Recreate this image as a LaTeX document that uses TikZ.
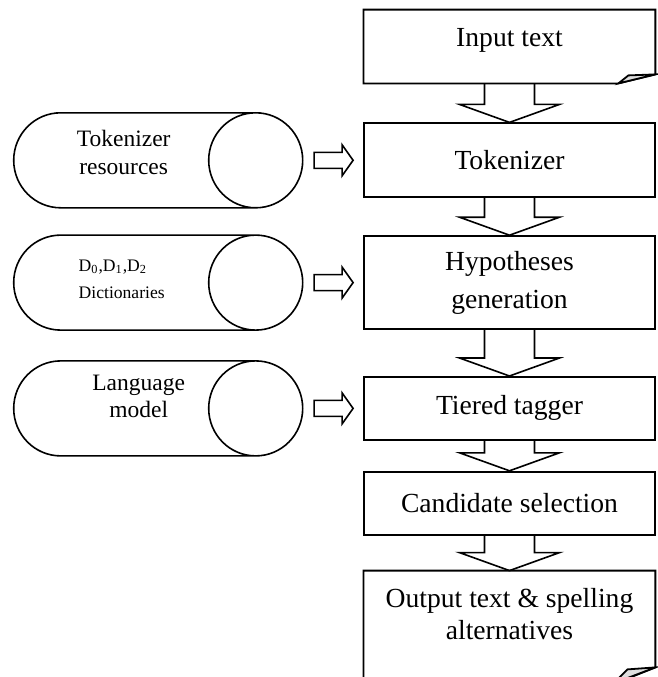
\documentclass[tikz,border=0pt]{standalone}
\usepackage{fontspec}
\setmainfont{Liberation Serif}
\usetikzlibrary{positioning, calc}

% hollow block arrows between named nodes
\newcommand{\blockdown}[2]{%
  \draw[blockarrow] let \p1=(#1), \p2=(#2) in
    (\x1-12.5pt,\y1) -- (\x1-12.5pt,\y2+9pt) -- (\x1-25pt,\y2+9pt) -- (\x1,\y2)
    -- (\x1+25pt,\y2+9pt) -- (\x1+12.5pt,\y2+9pt) -- (\x1+12.5pt,\y1);}
\newcommand{\blockright}[2]{%
  \draw[blockarrow] let \p1=(#1), \p2=(#2) in
    (\x1+5pt,\y2+4pt) -- (\x2-10.5pt,\y2+4pt) -- (\x2-10.5pt,\y2+7.75pt) -- (\x2-5pt,\y2)
    -- (\x2-10.5pt,\y2-7.75pt) -- (\x2-10.5pt,\y2-4pt) -- (\x1+5pt,\y2-4pt) -- cycle;}

\begin{document}
\begin{tikzpicture}[
        x=0.5pt, y=0.5pt,
        box/.style={draw, line width=0.9pt, minimum width=145.5pt, inner sep=0pt, align=center,
                    font=\fontsize{13.8pt}{16pt}\selectfont},
        docbox/.style={minimum width=145.5pt, inner sep=0pt, align=center,
                    font=\fontsize{13.8pt}{16pt}\selectfont},
        store/.style={minimum width=145pt, minimum height=47.5pt, inner sep=0pt},
        storetext/.style={inner sep=0pt, font=\fontsize{11.75pt}{13.75pt}\selectfont},
        boxline/.style={line width=0.9pt, line join=miter},
        storeline/.style={line width=0.8pt},
        blockarrow/.style={line width=0.8pt, line join=miter}
    ]
    \useasboundingbox (0,0) rectangle (658,677);

    % Define the blocks
    \node[docbox, minimum height=30pt] (input) at (509.5,637) {Input text};
    \coordinate (input foot) at ($(input.south)+(0,-13)$);
    \node[box, minimum height=37pt, below=19.5pt of input foot] (tok) {Tokenizer};
    \node[box, minimum height=46.5pt, below=18.5pt of tok,
          font=\fontsize{13.8pt}{19pt}\selectfont] (hyp) {Hypotheses\\generation};
    \node[box, minimum height=31.5pt, below=23pt of hyp] (tier) {Tiered tagger};
    \node[box, minimum height=31.5pt, below=15pt of tier] (cand) {Candidate selection};
    \node[docbox, minimum height=43pt, below=17.5pt of cand] (output) {Output text \& spelling\\alternatives};

    % Define the resources
    \node[store, left=29.5pt of tok] (tokres) {};
    \node[store, left=29.5pt of hyp] (dict) {};
    \node[store, left=29.5pt of tier] (langmod) {};
    \node[storetext, align=center] (tokres text) at ($(tokres)+(-35,8)$) {Tokenizer\\resources};
    \node[storetext, align=left, anchor=west, font=\fontsize{8.8pt}{13.5pt}\selectfont] (dict text)
        at ($(dict.west)+(65,3)$) {D\textsubscript{0},D\textsubscript{1},D\textsubscript{2}\\Dictionaries};
    \node[storetext, align=center] (langmod text) at ($(langmod)+(-20,12)$) {Language\\model};

    % Draw the outlines
    \draw[boxline] (input.north west) -- (input.north east) -- ($(input.south east)+(0,-4)$)
        -- ($(input.south east)+(-37,-13)$) -- (input foot -| input.west) -- cycle;
    \draw[boxline, fill=gray!25] ($(input.south east)+(-37,-13)$) -- ($(input.south east)+(-27,-5)$)
        -- ($(input.south east)+(0,-4)$) -- cycle;
    \draw[boxline] ($(output.south east)+(0,-10)$) -- (output.north east) -- (output.north west)
        -- ($(output.south west)+(0,-30)$) -- ($(output.south east)+(-50,-30)$) -- cycle;
    \draw[boxline, fill=gray!25] ($(output.south east)+(0,-10)$) -- ($(output.south east)+(-28,-12)$)
        -- ($(output.south east)+(-42,-26)$) -- cycle;
    \foreach \n in {tokres, dict, langmod} {
        \draw[storeline] ($(\n.center)+(-98,47.5)$) -- ++(195,0)
            ($(\n.center)+(-98,47.5)$) arc[start angle=90, end angle=270, x radius=23.5pt, y radius=23.75pt] -- ++(195,0)
            ($(\n.center)+(97,0)$) ellipse[x radius=23.5pt, y radius=23.75pt];
    }

    % Draw the connecting arrows
    \blockdown{input foot}{tok.north}
    \blockdown{tok.south}{hyp.north}
    \blockdown{hyp.south}{tier.north}
    \blockdown{tier.south}{cand.north}
    \blockdown{cand.south}{output.north}
    \blockright{tokres.east}{tok.west}
    \blockright{dict.east}{hyp.west}
    \blockright{langmod.east}{tier.west}

\end{tikzpicture}
\end{document}
